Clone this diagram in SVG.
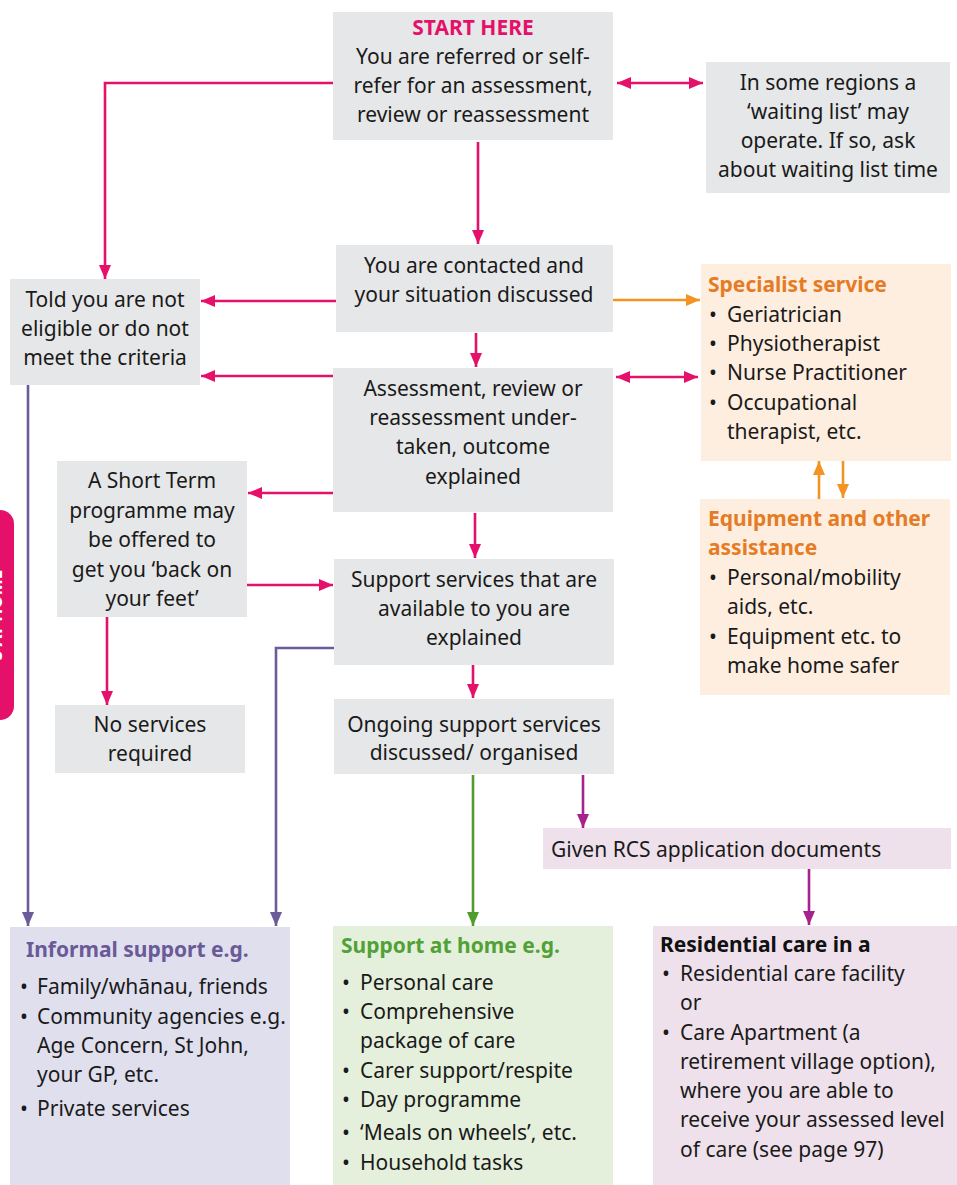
<svg xmlns="http://www.w3.org/2000/svg" width="957" height="1185" viewBox="0 0 957 1185">
<style>
text{font-family:"Noto Sans","Open Sans","DejaVu Sans",sans-serif;font-size:21px;fill:#1a1a1a}
.c{text-anchor:middle}
.grey{fill:#e6e7e8}
.b{font-weight:bold}
.pk{stroke:#e5106a;stroke-width:2.6;fill:none}
.or{stroke:#f39322;stroke-width:2.6;fill:none}
.pu{stroke:#6b5b9a;stroke-width:2.6;fill:none}
.gr{stroke:#4e9d2d;stroke-width:2.6;fill:none}
.mg{stroke:#a6228e;stroke-width:2.6;fill:none}
</style>
<defs>
<marker id="aPk" viewBox="0 0 14 12" refX="14" refY="6" markerWidth="14" markerHeight="12" markerUnits="userSpaceOnUse" orient="auto-start-reverse"><path d="M0,0 L14,6 L0,12 Z" fill="#e5106a"/></marker>
<marker id="aOr" viewBox="0 0 14 12" refX="14" refY="6" markerWidth="14" markerHeight="12" markerUnits="userSpaceOnUse" orient="auto-start-reverse"><path d="M0,0 L14,6 L0,12 Z" fill="#f39322"/></marker>
<marker id="aPu" viewBox="0 0 14 12" refX="14" refY="6" markerWidth="14" markerHeight="12" markerUnits="userSpaceOnUse" orient="auto-start-reverse"><path d="M0,0 L14,6 L0,12 Z" fill="#6b5b9a"/></marker>
<marker id="aGr" viewBox="0 0 14 12" refX="14" refY="6" markerWidth="14" markerHeight="12" markerUnits="userSpaceOnUse" orient="auto-start-reverse"><path d="M0,0 L14,6 L0,12 Z" fill="#4e9d2d"/></marker>
<marker id="aMg" viewBox="0 0 14 12" refX="14" refY="6" markerWidth="14" markerHeight="12" markerUnits="userSpaceOnUse" orient="auto-start-reverse"><path d="M0,0 L14,6 L0,12 Z" fill="#a6228e"/></marker>
</defs>
<rect width="957" height="1185" fill="#ffffff"/>

<g id="tab">
<rect x="-30" y="510" width="44" height="210" rx="14" fill="#e5106a"/>
<text transform="translate(2,615) rotate(-90)" class="c b" style="fill:#ffffff;font-size:17px">S AT HOME</text>
</g>

<g id="connectors">
<path class="pk" d="M333,83 H105 V279" marker-end="url(#aPk)"/>
<path class="pk" d="M617,83 H703" marker-start="url(#aPk)" marker-end="url(#aPk)"/>
<path class="pk" d="M478,142 V244" marker-end="url(#aPk)"/>
<path class="pk" d="M336,301 H201" marker-end="url(#aPk)"/>
<path class="pk" d="M476,333 V367" marker-end="url(#aPk)"/>
<path class="pk" d="M333,376 H201" marker-end="url(#aPk)"/>
<path class="pk" d="M616,377 H698" marker-start="url(#aPk)" marker-end="url(#aPk)"/>
<path class="pk" d="M333,493 H248" marker-end="url(#aPk)"/>
<path class="pk" d="M247,585 H333" marker-end="url(#aPk)"/>
<path class="pk" d="M107,617 V705" marker-end="url(#aPk)"/>
<path class="pk" d="M475,513 V558" marker-end="url(#aPk)"/>
<path class="pk" d="M473,665 V698" marker-end="url(#aPk)"/>
<path class="or" d="M613,300 H700" marker-end="url(#aOr)"/>
<path class="or" d="M819,499 V461" marker-end="url(#aOr)"/>
<path class="or" d="M843,461 V498" marker-end="url(#aOr)"/>
<path class="pu" d="M28,385 V926" marker-end="url(#aPu)"/>
<path class="pu" d="M334,648 H276 V926" marker-end="url(#aPu)"/>
<path class="gr" d="M473,775 V926" marker-end="url(#aGr)"/>
<path class="mg" d="M583,775 V828" marker-end="url(#aMg)"/>
<path class="mg" d="M809,869 V925" marker-end="url(#aMg)"/>
</g>

<g id="start">
<rect class="grey" x="333" y="12" width="280" height="128"/>
<text class="c b" x="473" y="35" style="fill:#e5106a">START HERE</text>
<text class="c" x="473" y="64">You are referred or self-</text>
<text class="c" x="473" y="93">refer for an assessment,</text>
<text class="c" x="473" y="122">review or reassessment</text>
</g>

<g id="waiting">
<rect class="grey" x="706" y="62" width="244" height="131"/>
<text class="c" x="828" y="90">In some regions a</text>
<text class="c" x="828" y="119">‘waiting list’ may</text>
<text class="c" x="828" y="148">operate. If so, ask</text>
<text class="c" x="828" y="177">about waiting list time</text>
</g>

<g id="contacted">
<rect class="grey" x="336" y="245" width="277" height="87"/>
<text class="c" x="474" y="273">You are contacted and</text>
<text class="c" x="474" y="302">your situation discussed</text>
</g>

<g id="told">
<rect class="grey" x="10" y="279" width="190" height="106"/>
<text class="c" x="105" y="307">Told you are not</text>
<text class="c" x="105" y="336">eligible or do not</text>
<text class="c" x="105" y="365">meet the criteria</text>
</g>

<g id="assessment">
<rect class="grey" x="333" y="368" width="280" height="144"/>
<text class="c" x="473" y="396">Assessment, review or</text>
<text class="c" x="473" y="425">reassessment under-</text>
<text class="c" x="473" y="454">taken, outcome</text>
<text class="c" x="473" y="484">explained</text>
</g>

<g id="specialist">
<rect x="701" y="264" width="250" height="197" fill="#fdeee0"/>
<text class="b" x="708" y="292" style="fill:#e57c25">Specialist service</text>
<text x="709" y="322">•</text><text x="727" y="322">Geriatrician</text>
<text x="709" y="351">•</text><text x="727" y="351">Physiotherapist</text>
<text x="709" y="380">•</text><text x="727" y="380">Nurse Practitioner</text>
<text x="709" y="410">•</text><text x="727" y="410">Occupational</text>
<text x="727" y="439">therapist, etc.</text>
</g>

<g id="equipment">
<rect x="700" y="499" width="250" height="196" fill="#fdeee0"/>
<text class="b" x="708" y="526" style="fill:#e57c25">Equipment and other</text>
<text class="b" x="708" y="555" style="fill:#e57c25">assistance</text>
<text x="709" y="585">•</text><text x="727" y="585">Personal/mobility</text>
<text x="727" y="614">aids, etc.</text>
<text x="709" y="644">•</text><text x="727" y="644">Equipment etc. to</text>
<text x="727" y="673">make home safer</text>
</g>

<g id="shortterm">
<rect class="grey" x="57" y="461" width="190" height="156"/>
<text class="c" x="152" y="488">A Short Term</text>
<text class="c" x="152" y="518">programme may</text>
<text class="c" x="152" y="547">be offered to</text>
<text class="c" x="152" y="577">get you ‘back on</text>
<text class="c" x="152" y="606">your feet’</text>
</g>

<g id="noservices">
<rect class="grey" x="55" y="705" width="190" height="68"/>
<text class="c" x="150" y="732">No services</text>
<text class="c" x="150" y="761">required</text>
</g>

<g id="support">
<rect class="grey" x="334" y="559" width="280" height="106"/>
<text class="c" x="474" y="587">Support services that are</text>
<text class="c" x="474" y="616">available to you are</text>
<text class="c" x="474" y="645">explained</text>
</g>

<g id="ongoing">
<rect class="grey" x="334" y="699" width="280" height="75"/>
<text class="c" x="474" y="732">Ongoing support services</text>
<text class="c" x="474" y="760">discussed/ organised</text>
</g>

<g id="rcs">
<rect x="543" y="828" width="408" height="41" fill="#efe1ec"/>
<text x="551" y="857">Given RCS application documents</text>
</g>

<g id="informal">
<rect x="10" y="927" width="280" height="258" fill="#e0dfee"/>
<text class="b" x="26" y="957" style="fill:#6a5a97">Informal support e.g.</text>
<text x="20" y="994">•</text><text x="37" y="994">Family/whānau, friends</text>
<text x="20" y="1024">•</text><text x="37" y="1024">Community agencies e.g.</text>
<text x="37" y="1053">Age Concern, St John,</text>
<text x="37" y="1082">your GP, etc.</text>
<text x="20" y="1116">•</text><text x="37" y="1116">Private services</text>
</g>

<g id="home">
<rect x="333" y="926" width="280" height="259" fill="#e5f0dc"/>
<text class="b" x="341" y="953" style="fill:#52a136">Support at home e.g.</text>
<text x="342" y="990">•</text><text x="360" y="990">Personal care</text>
<text x="342" y="1019">•</text><text x="360" y="1019">Comprehensive</text>
<text x="360" y="1048">package of care</text>
<text x="342" y="1078">•</text><text x="360" y="1078">Carer support/respite</text>
<text x="342" y="1107">•</text><text x="360" y="1107">Day programme</text>
<text x="342" y="1140">•</text><text x="360" y="1140">‘Meals on wheels’, etc.</text>
<text x="342" y="1170">•</text><text x="360" y="1170">Household tasks</text>
</g>

<g id="residential">
<rect x="653" y="926" width="304" height="259" fill="#efe1ec"/>
<text class="b" x="660" y="952" style="fill:#111111">Residential care in a</text>
<text x="662" y="981">•</text><text x="680" y="981">Residential care facility</text>
<text x="680" y="1010">or</text>
<text x="662" y="1040">•</text><text x="680" y="1040">Care Apartment (a</text>
<text x="680" y="1069">retirement village option),</text>
<text x="680" y="1098">where you are able to</text>
<text x="680" y="1127">receive your assessed level</text>
<text x="680" y="1157">of care (see page 97)</text>
</g>
</svg>
